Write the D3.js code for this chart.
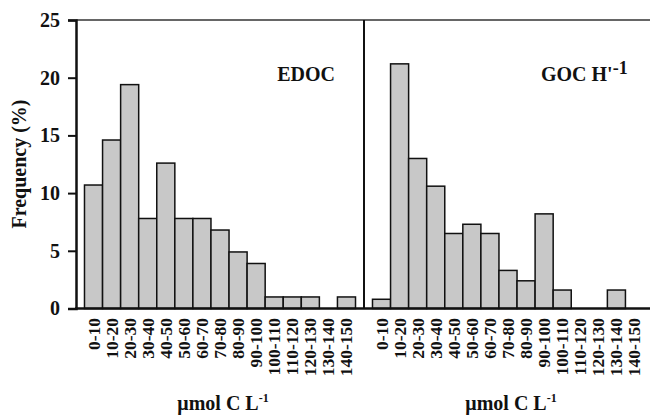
<!DOCTYPE html>
<html>
<head>
<meta charset="utf-8">
<script src="https://d3js.org/d3.v7.min.js"></script>
<style>
  html, body { margin: 0; padding: 0; background: #fff; }
  svg { display: block; }
  text { font-family: "Liberation Serif", "Times New Roman", serif; font-weight: bold; fill: #111; }
</style>
</head>
<body>
<svg id="chart" width="650" height="418"></svg>
<script>
const categories = ["0-10","10-20","20-30","30-40","40-50","50-60","60-70","70-80","80-90","90-100","100-110","110-120","120-130","130-140","140-150"];
const edocValues = [10.7, 14.6, 19.4, 7.8, 12.6, 7.8, 7.8, 6.8, 4.9, 3.9, 1.0, 1.0, 1.0, 0, 1.0];
const gocValues  = [0.8, 21.2, 13.0, 10.6, 6.5, 7.3, 6.5, 3.3, 2.4, 8.2, 1.6, 0, 0, 1.6, 0];
const yTicks = [0, 5, 10, 15, 20, 25];
const panelNames = ["EDOC", "GOC H'"];

(function () {
const svg = d3.select("#chart");
const plotTop = 20, plotBottom = 308.5;
const y = d3.scaleLinear().domain([0, 25]).range([plotBottom, plotTop]);

const panels = [
  { values: edocValues, x0: 76, x1: 364, label: panelNames[0], sup: null },
  { values: gocValues, x0: 364, x1: 652, label: panelNames[1], sup: "-1" }
];

panels.forEach(p => {
  const x = d3.scaleBand().domain(categories).range([p.x0, p.x1]).paddingInner(0).paddingOuter(0.47);
  const g = svg.append("g");
  g.selectAll("rect").data(categories.map((c, i) => ({ c, v: p.values[i] })).filter(d => d.v > 0))
    .enter().append("rect")
    .attr("x", d => x(d.c))
    .attr("y", d => y(d.v))
    .attr("width", x.bandwidth())
    .attr("height", d => y(0) - y(d.v))
    .attr("fill", "#c8c8c8")
    .attr("stroke", "#111")
    .attr("stroke-width", 1.5);

  g.selectAll("text.cat").data(categories).enter().append("text")
    .attr("class", "cat")
    .attr("transform", d => `translate(${x(d) + x.bandwidth() / 2 + 6},318) rotate(-90)`)
    .attr("text-anchor", "end")
    .attr("font-size", 17.5)
    .text(d => d);

  const cx = (p.x0 + p.x1) / 2;
  const t = svg.append("text").attr("x", cx + 3).attr("y", 410).attr("text-anchor", "middle").attr("font-size", 20);
  t.append("tspan").text("\u03bcmol C L");
  t.append("tspan").attr("font-size", 12).attr("dy", -8).text("-1");

  if (p.sup) {
    const lt = svg.append("text").attr("x", 541).attr("y", 81).attr("font-size", 20);
    lt.append("tspan").text(p.label);
    lt.append("tspan").attr("font-size", 18).attr("dy", -7).text(p.sup);
  } else {
    svg.append("text").attr("x", 335).attr("y", 81).attr("text-anchor", "end").attr("font-size", 20).text(p.label);
  }
});

svg.append("line").attr("x1", 76).attr("x2", 650).attr("y1", plotTop).attr("y2", plotTop).attr("stroke", "#333").attr("stroke-width", 1.5);
svg.append("line").attr("x1", 364).attr("x2", 364).attr("y1", plotTop).attr("y2", plotBottom).attr("stroke", "#111").attr("stroke-width", 2);
svg.append("line").attr("x1", 75).attr("x2", 650).attr("y1", plotBottom).attr("y2", plotBottom).attr("stroke", "#111").attr("stroke-width", 2.5);

const yAxis = d3.axisLeft(y).tickValues(yTicks).tickSize(8).tickPadding(8).tickFormat(d3.format("d"));
const ya = svg.append("g").attr("transform", "translate(76,0)").call(yAxis);
ya.select(".domain").attr("stroke", "#111").attr("stroke-width", 2.5);
ya.selectAll(".tick line").attr("stroke", "#111").attr("stroke-width", 2);
ya.selectAll(".tick text").attr("font-size", 20).attr("font-family", "Liberation Serif, serif").attr("font-weight", "bold").attr("fill", "#111");

svg.append("text").attr("transform", "translate(26,164) rotate(-90)").attr("text-anchor", "middle").attr("font-size", 20).text("Frequency (%)");
})();
</script>
</body>
</html>
